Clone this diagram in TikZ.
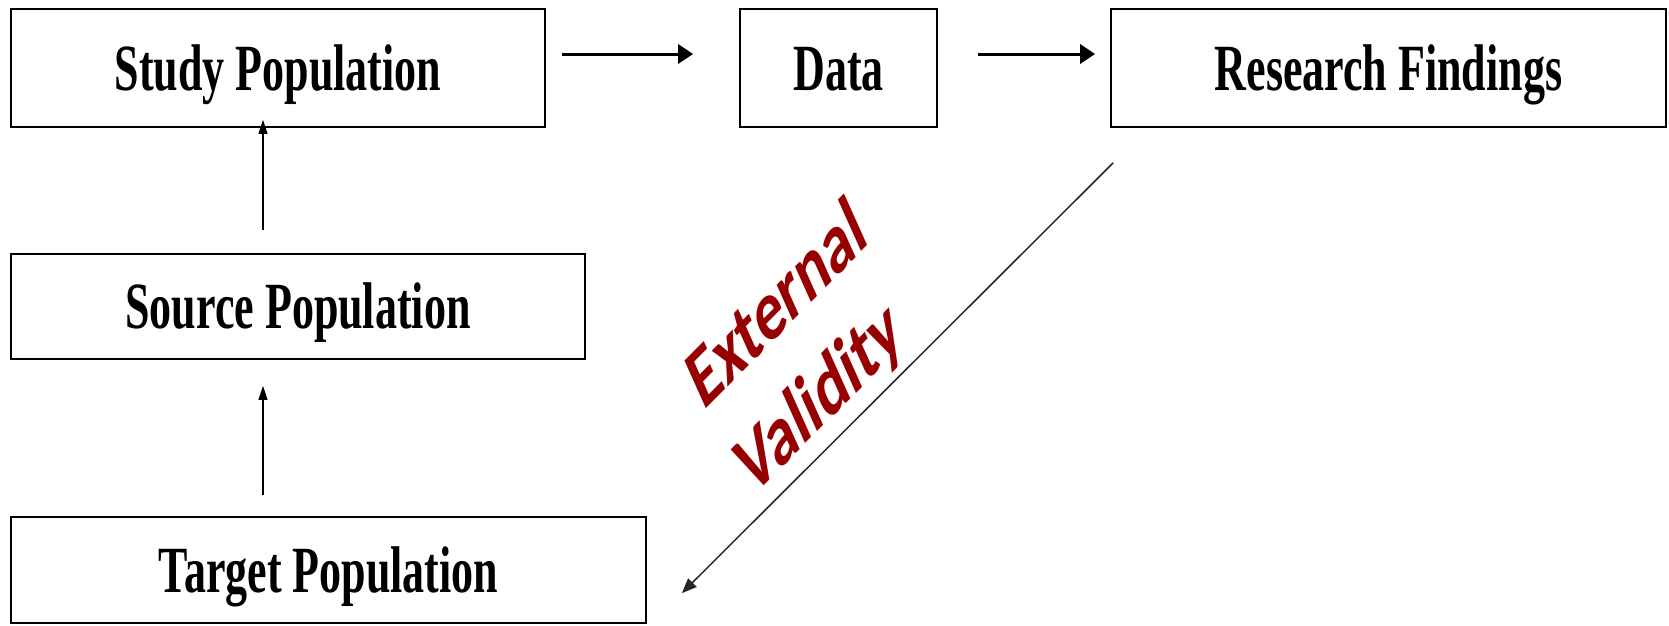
\documentclass[tikz,border=0pt]{standalone}
\usepackage{fontspec}
\usepackage{graphicx}
\setmainfont{Liberation Serif}
\newfontfamily\valfont{Carlito}
\usetikzlibrary{arrows.meta}
\definecolor{valred}{RGB}{150,0,0}
\newcommand{\bxt}[1]{\scalebox{1}[1.5]{\bfseries #1}}
\begin{document}
\begin{tikzpicture}[x=1pt,y=-1pt,
  box/.style={draw, line width=1.7pt, inner sep=0pt, text height=44pt, text depth=0pt,
    font=\fontsize{44}{50}\selectfont},
  harr/.style={line width=3pt, -{Triangle[length=15pt,width=19pt]}},
  varr/.style={line width=1.4pt, -{Triangle[length=14pt,width=9pt]}},
  darr/.style={line width=1.5pt, draw=black!85, -{Triangle[length=15pt,width=12pt]}},
  vlabel/.style={transform shape, rotate=34, text=valred, align=center, inner sep=0pt,
    font=\valfont\bfseries\fontsize{59}{75}\selectfont}]
\useasboundingbox (0,0) rectangle (1669,625);
\node[box, minimum width=534pt, minimum height=118pt] (study) at (278,68) {\bxt{Study Population}};
\node[box, minimum width=197pt, minimum height=118pt] (data) at (838.5,68) {\bxt{Data}};
\node[box, minimum width=555pt, minimum height=118pt] (findings) at (1388.5,68) {\bxt{Research Findings}};
\node[box, minimum width=574pt, minimum height=105pt] (source) at (298,306.5) {\bxt{Source Population}};
\node[box, minimum width=635pt, minimum height=106pt] (target) at (328.5,570) {\bxt{Target Population}};
\begin{scope}[shift={(799,354)}, yscale=1.5]
\node[vlabel] (ev) at (0,0) {External\\Validity};
\end{scope}
\coordinate (vx) at (263,0);
\draw[harr, shorten <=16pt, shorten >=46pt] ([yshift=14pt]study.east) -- ([yshift=14pt]data.west);
\draw[harr, shorten <=40pt, shorten >=15pt] ([yshift=14pt]data.east) -- ([yshift=14pt]findings.west);
\draw[varr, shorten <=23pt, shorten >=-8pt] (source.north -| vx) -- (study.south -| vx);
\draw[varr, shorten <=21pt, shorten >=26pt] (target.north -| vx) -- (source.south -| vx);
\draw[darr] ([shift={(3,35)}]findings.south west) -- ([shift={(35,77)}]target.north east);
\end{tikzpicture}
\end{document}
